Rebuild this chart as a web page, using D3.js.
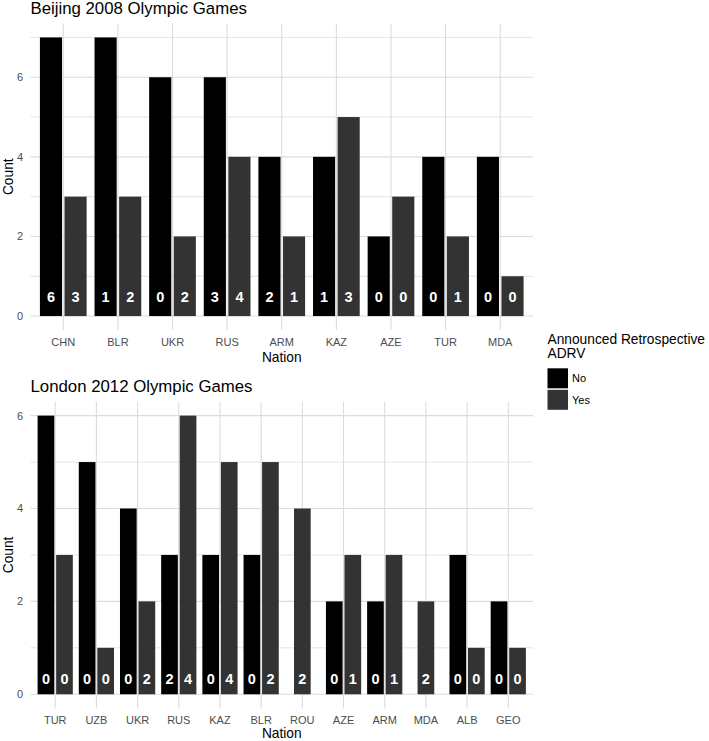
<!DOCTYPE html>
<html>
<head>
<meta charset="utf-8">
<script src="https://cdn.jsdelivr.net/npm/d3@7"></script>
<style>
  body { margin: 0; background: #fff; }
  svg { display: block; font-family: "Liberation Sans", Arial, Helvetica, sans-serif; }
</style>
</head>
<body>
<svg id="chart" width="709" height="741"></svg>
<script>
// ---- Data ----
const beijingNations = ["CHN","BLR","UKR","RUS","ARM","KAZ","AZE","TUR","MDA"];
const beijingNo      = [7, 7, 6, 6, 4, 4, 2, 4, 4];
const beijingYes     = [3, 3, 2, 4, 2, 5, 3, 2, 1];
const beijingNoLabel = [6, 1, 0, 3, 2, 1, 0, 0, 0];
const beijingYesLabel= [3, 2, 2, 4, 1, 3, 0, 1, 0];

const londonNations  = ["TUR","UZB","UKR","RUS","KAZ","BLR","ROU","AZE","ARM","MDA","ALB","GEO"];
const londonNo       = [6, 5, 4, 3, 3, 3, null, 2, 2, null, 3, 2];
const londonYes      = [3, 1, 2, 6, 5, 5, 4, 3, 3, 2, 1, 1];
const londonNoLabel  = [0, 0, 0, 2, 0, 0, null, 0, 0, null, 0, 0];
const londonYesLabel = [0, 0, 2, 4, 4, 2, 2, 1, 1, 2, 0, 0];

const yTicks = [0, 2, 4, 6];
const groups = ["No", "Yes"];
const legendTitle = ["Announced Retrospective", "ADRV"];

const colors = { No: "#000000", Yes: "#333333" };
const gridColor = "#dcdcdc";
const svg = d3.select("#chart");

function drawPanel(opt) {
  const { title, nations, no, yes, noLab, yesLab, yMax, top, bottom, left, right, labelOffset, xTitleOffset } = opt;
  const g = svg.append("g");
  const ext = yMax * 0.05;
  const y = d3.scaleLinear().domain([-ext, yMax + ext]).range([bottom, top]);
  const x = d3.scalePoint().domain(nations).range([left, right]).padding(0.6);
  const step = x.step();
  const bw = step * 0.9 / 2;        // dodge slot width
  const barW = bw * 0.9;            // dodge2 padding

  // minor gridlines
  const minor = d3.range(1, Math.floor(yMax + ext) + 1, 2);
  g.selectAll(".minor").data(minor).join("line")
    .attr("x1", left).attr("x2", right)
    .attr("y1", d => y(d)).attr("y2", d => y(d))
    .attr("stroke", gridColor).attr("stroke-width", 0.8);
  // major gridlines y
  g.selectAll(".major").data(yTicks).join("line")
    .attr("x1", left).attr("x2", right)
    .attr("y1", d => y(d)).attr("y2", d => y(d))
    .attr("stroke", gridColor).attr("stroke-width", 1.1);
  // vertical gridlines
  g.selectAll(".vgrid").data(nations).join("line")
    .attr("x1", d => x(d)).attr("x2", d => x(d))
    .attr("y1", top).attr("y2", bottom)
    .attr("stroke", gridColor).attr("stroke-width", 1.1);

  // bars
  const recs = [];
  nations.forEach((n, i) => {
    const present = [];
    if (no[i] != null) present.push({ grp: "No", v: no[i], lab: noLab[i] });
    if (yes[i] != null) present.push({ grp: "Yes", v: yes[i], lab: yesLab[i] });
    const k = present.length;
    present.forEach((p, j) => {
      const cx = x(n) + (j - (k - 1) / 2) * bw;
      recs.push({ ...p, cx });
    });
  });
  g.selectAll(".bar").data(recs).join("rect")
    .attr("x", d => d.cx - barW / 2)
    .attr("width", barW)
    .attr("y", d => y(d.v))
    .attr("height", d => y(0) - y(d.v))
    .attr("fill", d => colors[d.grp]);
  g.selectAll(".lab").data(recs).join("text")
    .attr("x", d => d.cx)
    .attr("y", y(0) - labelOffset)
    .attr("text-anchor", "middle")
    .attr("fill", "#fff")
    .attr("font-weight", "bold")
    .attr("font-size", 14.5)
    .text(d => d.lab);

  // y axis labels
  g.selectAll(".ytick").data(yTicks).join("text")
    .attr("x", left - 7.5)
    .attr("y", d => y(d))
    .attr("dy", "0.36em")
    .attr("text-anchor", "end")
    .attr("fill", "#4d4d4d")
    .attr("font-size", 11)
    .text(d => d);
  // x axis labels
  g.selectAll(".xtick").data(nations).join("text")
    .attr("x", d => x(d))
    .attr("y", bottom + 15.8)
    .attr("text-anchor", "middle")
    .attr("fill", "#4d4d4d")
    .attr("font-size", 11)
    .text(d => d);
  // axis titles
  g.append("text")
    .attr("x", (left + right) / 2)
    .attr("y", bottom + xTitleOffset)
    .attr("text-anchor", "middle")
    .attr("font-size", 13.75)
    .attr("fill", "#000")
    .text("Nation");
  g.append("text")
    .attr("transform", `translate(12.5,${(top + bottom) / 2}) rotate(-90)`)
    .attr("text-anchor", "middle")
    .attr("font-size", 13.75)
    .attr("fill", "#000")
    .text("Count");
  // title
  g.append("text")
    .attr("x", left)
    .attr("y", top - 10)
    .attr("font-size", 16.8)
    .attr("fill", "#000")
    .text(title);
}

drawPanel({
  title: "Beijing 2008 Olympic Games",
  nations: beijingNations, no: beijingNo, yes: beijingYes,
  noLab: beijingNoLabel, yesLab: beijingYesLabel,
  yMax: 7, top: 23.5, bottom: 330, left: 30.5, right: 533, labelOffset: 14, xTitleOffset: 31.5
});
drawPanel({
  title: "London 2012 Olympic Games",
  nations: londonNations, no: londonNo, yes: londonYes,
  noLab: londonNoLabel, yesLab: londonYesLabel,
  yMax: 6, top: 401.7, bottom: 708.2, left: 30.5, right: 533, labelOffset: 10, xTitleOffset: 29.5
});

// legend
const lg = svg.append("g");
lg.selectAll(".lt").data(legendTitle).join("text")
  .attr("x", 547.5)
  .attr("y", (d, i) => 343.5 + i * 14)
  .attr("font-size", 13.75)
  .attr("fill", "#000")
  .text(d => d);
lg.selectAll(".key").data(groups).join("rect")
  .attr("x", 547.5)
  .attr("y", (d, i) => 368.3 + i * 21.5)
  .attr("width", 20.5)
  .attr("height", 20)
  .attr("fill", d => colors[d]);
lg.selectAll(".kt").data(groups).join("text")
  .attr("x", 572)
  .attr("y", (d, i) => 378.3 + i * 21.5)
  .attr("dy", "0.36em")
  .attr("font-size", 11)
  .attr("fill", "#000")
  .text(d => d);
</script>
</body>
</html>
